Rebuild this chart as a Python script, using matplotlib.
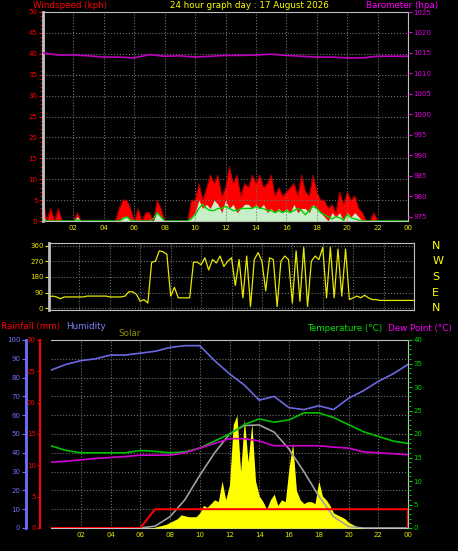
import numpy as np
import matplotlib
matplotlib.use("Agg")
import matplotlib.pyplot as plt

hours_q = np.arange(0, 24.01, 0.25)
hours_h = np.arange(0, 25, 1)

gust = [5,0,3,0,3,0,0,0, 0,2,0,0,0,0,0,0, 0,0,0,0,3,5,5,3, 0,3,0,2,2,0,5,3,
        0,0,0,0,0,0,0,5, 5,9,5,8,11,9,11,6, 8,13,9,11,6,9,8,11, 9,11,8,9,11,6,8,6,
        7,8,9,6,11,7,6,11, 7,5,5,3,4,2,7,4, 7,5,6,3,2,0,0,2, 0,0,0,0,0,0,0,0,0]
speed = [1,0,0,0,0,0,0,0, 0,1,0,0,0,0,0,0, 0,0,0,0,0,1,1,0, 0,0,0,0,0,0,2,1,
         0,0,0,0,0,0,0,1, 2,5,3,4,3,5,4,2, 5,3,4,2,3,4,4,3, 4,3,4,2,3,2,3,2,
         3,2,4,2,3,3,2,4, 3,2,1,0,2,1,2,0, 2,1,2,1,0,0,0,0, 0,0,0,0,0,0,0,0,0]
avg = [0.5,0,0,0,0,0,0,0, 0,0.3,0,0,0,0,0,0, 0,0,0,0,0,0.5,1,0.3, 0,0,0,0,0,0.5,2,1,
       0,0,0,0,0,0,0,0.5, 1.5,3,4,3,2.5,2.5,3,3, 3.5,3,2.5,2.5,3,3,3,3,
       3.5,3,3,2.5,2.5,2,2.5,2, 2.5,2,2.5,3,2.5,1.5,2.5,3.5, 3,2,1.5,1,0.5,1,0.8,0.2,
       1.5,0.8,0.5,0.2,0,0,0,0, 0,0,0,0,0,0,0,0,0]
pressure = [1015,1014.5,1014.5,1014.3,1014,1014,1013.8,1014.6,1014.2,1014.3,1014,1014.2,
            1014.4,1014.4,1014.5,1014.7,1014.4,1014.2,1014,1014,1013.8,1013.8,1014.2,1014.2,1014.2]
direction = [65,70,65,55,65,65,65,65, 65,65,70,70,70,70,70,70, 65,65,65,65,70,95,95,80,
             40,50,30,265,270,330,325,310, 70,120,60,60,60,60,265,265,
             250,290,220,280,260,300,240,270, 290,130,280,60,300,10,280,320,
             270,100,290,280,10,270,300,280, 30,330,40,350,10,270,300,280,
             350,60,350,60,340,70,340,50, 60,70,60,75,60,50,50,45, 45,45,45,45,45,45,45,45,45]
temperature = [17.5,16.5,16,16,16,16,16.5,16.3,16,16.2,17,18.5,20,22,23.2,22.5,23,24.5,24.5,23.5,22,20.5,19.5,18.5,18]
dewpoint = [14,14.2,14.5,14.8,15,15.2,15.5,15.5,15.5,16,17,18,19,19,18.5,17.5,17.5,17.5,17.5,17.2,17,16.2,16,15.8,15.6]
humidity = [84,87,89,90,92,92,93,94,96,97,97,89,82,76,68,70,64,63,65,63,69,73,78,82,87]
rain = [0,0,0,0,0,0,0,3,3,3,3,3,3,3,3,3,3,3,3,3,3,3,3,3,3]
solar = [0]*26 + [0,0,5,10,15,20, 30,40,50,70,65,60,60,60, 80,120,110,130,150,140,250,150,
         230,550,600,300,580,350,560,250, 170,140,100,150,180,120,150,140,
         320,450,200,150,130,140,140,130, 250,170,150,120,80,70,60,50, 30,20,10,5,0,0,0,0] + [0]*9
solar_max = [0,0,0,0,0,0,0,10,60,150,280,400,500,545,548,510,420,300,170,60,8,0,0,0,0]

bg = "black"
fig = plt.figure(figsize=(4.58, 5.51), dpi=100, facecolor=bg)
W, H = 458, 551
def rect(x0, y0, x1, y1):
    return [x0 / W, 1 - y1 / H, (x1 - x0) / W, (y1 - y0) / H]
fs = 5
tfs = 6.3
xt = list(range(2, 25, 2))
xl = ["%02d" % (h % 24) for h in xt]

def style(ax, left_color):
    ax.set_facecolor(bg)
    ax.set_xlim(0, 24)
    ax.set_xticks(xt)
    ax.set_xticklabels(xl, color="#e8e800", fontsize=fs)
    ax.grid(True, color="#707070", linestyle=":", linewidth=0.8)
    for s in ax.spines.values():
        s.set_color("#c0c0c0")
    ax.spines["left"].set_linewidth(2)
    ax.tick_params(axis="x", length=0, pad=3)
    ax.tick_params(axis="y", colors=left_color, labelsize=fs, length=3, pad=1)

# top
ax1 = fig.add_axes(rect(43, 12, 408, 221))
style(ax1, "red")
ax1.fill_between(hours_q, gust, color="red", linewidth=0)
ax1.plot(hours_q, gust, color="#b00000", linewidth=0.6)
ax1.fill_between(hours_q, speed, color="#c8f0c8", linewidth=0)
ax1.plot(hours_q, avg, color="#00d000", linewidth=1)
ax1.set_ylim(0, 50)
ax1.set_yticks(range(0, 51, 5))
ax1.set_yticks(np.arange(0, 51, 1), minor=True)
ax1.tick_params(axis="y", which="minor", colors="red", length=2)
ax1.set_yticklabels([str(v) for v in range(0, 51, 5)], color="red")
ax1b = ax1.twinx()
ax1b.plot(hours_h, pressure, color="#c000c0", linewidth=1.2)
ax1b.set_ylim(974, 1025)
ax1b.set_yticks(range(975, 1026, 5))
ax1b.tick_params(axis="y", colors="#e000e0", labelsize=fs, length=3, pad=1)
for s in ax1b.spines.values():
    s.set_visible(False)
fig.text(33 / W, 1 - 1 / H, "Windspeed (kph)", color="red", fontsize=tfs, va="top")
fig.text(170 / W, 1 - 1 / H, "24 hour graph day : 17 August 2026", color="yellow", fontsize=tfs, va="top")
fig.text(366 / W, 1 - 1 / H, "Barometer (hpa)", color="#ff00ff", fontsize=tfs, va="top")

# middle
ax2 = fig.add_axes(rect(49, 243, 414, 310))
style(ax2, "#e8e800")
ax2.set_xticklabels([])
ax2.plot(hours_q, direction, color="#e8e800", linewidth=0.9)
ax2.set_ylim(-10, 375)
ax2.set_yticks(range(0, 361, 90))
for lab, yv in zip(["N", "W", "S", "E", "N"], [360, 270, 180, 90, 0]):
    ax2.text(1.05, (yv + 10) / 385, lab, transform=ax2.transAxes, color="yellow",
             fontsize=8, va="center")

fig.text(1 / W, 1 - 329 / H, "Rainfall (mm)", color="red", fontsize=tfs)
fig.text(66 / W, 1 - 329 / H, "Humidity", color="#8080ff", fontsize=tfs)
fig.text(118 / W, 1 - 336 / H, "Solar", color="#909000", fontsize=tfs)
fig.text(307 / W, 1 - 331 / H, "Temperature (°C)", color="#00e000", fontsize=tfs)
fig.text(388 / W, 1 - 331 / H, "Dew Point (°C)", color="#ff00ff", fontsize=tfs)

# bottom
ax3 = fig.add_axes(rect(51, 340, 408, 528))
style(ax3, "#7070ff")
axs = ax3.twinx()
axs.set_ylim(0, 1000)
axs.axis("off")
axs.fill_between(hours_q, solar, color="yellow", linewidth=0)
axs.plot(hours_h, solar_max, color="#a0a0a0", linewidth=1.2)
ax3.set_ylim(0, 100)
ax3.set_yticks(range(0, 101, 10))
ax3.spines["left"].set_position(("outward", 18))
ax3.spines["left"].set_color("#7070ff")
ax3.plot(hours_h, humidity, color="#6a6ae0", linewidth=1.2, zorder=5)
axr = ax3.twinx()
axr.yaxis.tick_left()
axr.spines["left"].set_position(("outward", 8))
axr.spines["left"].set_color("red")
axr.spines["left"].set_linewidth(1.5)
for k in ["right", "top", "bottom"]:
    axr.spines[k].set_visible(False)
axr.set_ylim(0, 30)
axr.set_yticks(range(0, 31, 5))
axr.tick_params(axis="y", colors="red", labelsize=fs, length=2, pad=1)
axr.plot(hours_h, rain, color="red", linewidth=1.5)
axr.plot([24, 24], [3, 0], color="red", linewidth=1.5)
axt = ax3.twinx()
for s in axt.spines.values():
    s.set_visible(False)
axt.set_ylim(0, 40)
axt.set_yticks(range(0, 41, 5))
axt.set_yticks(range(0, 41, 1), minor=True)
axt.tick_params(axis="y", which="both", colors="#00d000", labelsize=fs, length=3, pad=1)
axt.tick_params(axis="y", which="minor", length=2)
axt.plot(hours_h, temperature, color="#00c000", linewidth=1.2)
axt.plot(hours_h, dewpoint, color="#d000d0", linewidth=1.2)

fig.savefig("out.png", dpi=100, facecolor=bg)
